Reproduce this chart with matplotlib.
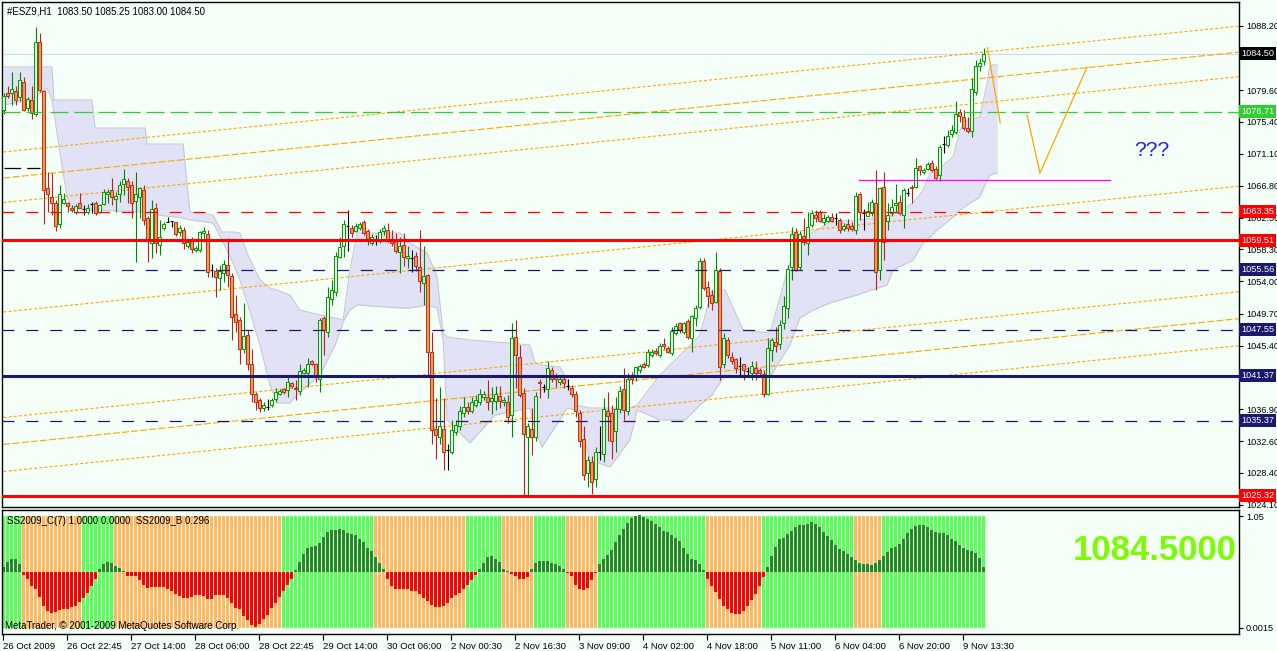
import matplotlib
matplotlib.use("Agg")
import matplotlib.pyplot as plt
import matplotlib.transforms as mtransforms
import numpy as np

plt.rcParams['font.family'] = ['Liberation Sans', 'DejaVu Sans']
plt.rcParams['lines.scale_dashes'] = False

W, H = 1277, 651
BG = '#F4FFF7'

# ---- price bars (#ESZ9, H1) ----
opens = [1077.0, 1079.2, 1079.2, 1079.5, 1078.7, 1080.7, 1077.2, 1078.3, 1076.4, 1086.0,
         1079.5, 1066.5, 1065.3, 1064.5, 1061.7, 1064.5, 1064.5, 1063.9, 1063.3, 1064.5,
         1063.7, 1063.3, 1064.4, 1064.5, 1063.3, 1064.4, 1065.7, 1066.2, 1065.1, 1065.7,
         1067.1, 1067.4, 1066.9, 1064.8, 1065.3, 1066.2, 1062.5, 1059.1, 1063.9, 1058.9,
         1061.1, 1062.0, 1062.1, 1061.9, 1060.6, 1060.9, 1058.8, 1059.7, 1058.2, 1058.2,
         1060.5, 1060.4, 1055.6, 1055.4, 1054.4, 1055.1, 1056.2, 1054.7, 1049.6, 1048.8,
         1045.0, 1046.8, 1043.0, 1038.9, 1038.1, 1037.0, 1037.2, 1037.5, 1038.3, 1039.0,
         1039.6, 1039.5, 1040.4, 1039.8, 1039.3, 1041.8, 1041.8, 1043.3, 1043.0, 1041.0,
         1049.1, 1047.3, 1051.6, 1052.6, 1057.3, 1058.8, 1061.4, 1061.1, 1060.8, 1061.1,
         1062.0, 1060.8, 1059.2, 1059.6, 1059.5, 1060.8, 1060.9, 1059.6, 1059.6, 1057.9,
         1058.9, 1057.1, 1057.1, 1057.4, 1055.9, 1053.8, 1054.9, 1044.5, 1034.3, 1033.2,
         1034.3, 1031.5, 1031.2, 1033.8, 1034.6, 1036.4, 1037.2, 1036.7, 1037.5, 1037.8,
         1038.6, 1038.6, 1038.0, 1038.0, 1038.7, 1037.8, 1037.8, 1036.1, 1046.6, 1043.9,
         1039.1, 1033.2, 1034.3, 1033.2, 1040.6, 1039.9, 1039.6, 1042.1, 1041.3, 1040.6,
         1040.9, 1040.0, 1039.8, 1039.0, 1036.4, 1032.9, 1028.3, 1029.9, 1027.5, 1031.2,
         1030.9, 1036.7, 1036.4, 1034.0, 1036.9, 1039.6, 1036.6, 1041.4, 1041.3, 1042.1,
         1043.0, 1042.8, 1044.1, 1044.7, 1044.1, 1045.6, 1045.1, 1044.4, 1047.1, 1048.4,
         1047.3, 1048.7, 1046.4, 1049.1, 1050.6, 1056.8, 1053.3, 1052.2, 1051.3, 1055.4,
         1043.0, 1046.2, 1043.9, 1043.6, 1042.7, 1042.9, 1042.0, 1041.8, 1042.4, 1042.1,
         1041.6, 1038.9, 1044.8, 1045.9, 1045.6, 1048.4, 1050.4, 1055.9, 1060.6, 1055.9,
         1060.1, 1059.1, 1061.6, 1062.9, 1063.3, 1061.9, 1062.1, 1062.6, 1062.5, 1062.2,
         1061.0, 1061.7, 1061.4, 1060.9, 1065.7, 1063.1, 1062.8, 1063.1, 1064.5, 1055.5,
         1066.7, 1062.1, 1063.1, 1064.2, 1064.7, 1062.9, 1065.8, 1066.7, 1066.6, 1069.5,
         1068.6, 1069.1, 1069.9, 1069.1, 1068.3, 1072.4, 1072.3, 1073.7, 1074.0, 1076.7,
         1076.0, 1074.5, 1074.1, 1079.4, 1082.9, 1083.5]
highs = [1079.2, 1080.1, 1082.1, 1080.2, 1082.1, 1081.4, 1078.7, 1080.1, 1088.1, 1087.2,
         1079.6, 1068.6, 1068.5, 1064.9, 1066.9, 1065.8, 1064.6, 1064.3, 1064.4, 1065.8,
         1064.2, 1064.4, 1064.7, 1064.8, 1064.4, 1066.4, 1066.4, 1067.8, 1066.0, 1067.5,
         1069.1, 1067.8, 1067.4, 1068.6, 1066.6, 1066.9, 1062.7, 1064.9, 1064.5, 1062.2,
         1062.0, 1062.6, 1062.1, 1062.0, 1061.6, 1061.3, 1059.6, 1059.9, 1058.7, 1060.8,
         1061.3, 1060.9, 1056.4, 1055.8, 1056.2, 1056.9, 1059.8, 1055.1, 1052.2, 1049.3,
         1051.1, 1047.5, 1044.9, 1039.2, 1038.4, 1037.8, 1038.3, 1038.4, 1039.7, 1039.6,
         1039.8, 1041.3, 1040.6, 1040.8, 1043.0, 1042.4, 1043.7, 1043.5, 1043.1, 1049.1,
         1049.4, 1053.3, 1054.2, 1058.0, 1060.0, 1062.2, 1063.5, 1061.6, 1061.8, 1062.0,
         1062.2, 1061.0, 1060.3, 1060.2, 1061.0, 1061.5, 1061.8, 1060.9, 1060.5, 1060.0,
         1060.5, 1058.7, 1058.2, 1057.9, 1060.9, 1058.7, 1055.0, 1047.3, 1038.4, 1039.9,
         1038.4, 1032.3, 1035.5, 1035.5, 1037.3, 1038.6, 1037.8, 1038.6, 1038.8, 1039.6,
         1039.3, 1040.8, 1039.9, 1040.0, 1040.0, 1038.6, 1038.8, 1048.4, 1048.8, 1045.5,
         1039.7, 1035.0, 1037.0, 1039.2, 1041.0, 1040.3, 1043.3, 1042.6, 1041.7, 1041.5,
         1041.5, 1040.9, 1040.1, 1039.4, 1036.8, 1034.6, 1030.6, 1030.6, 1031.9, 1034.6,
         1038.4, 1039.2, 1037.5, 1038.6, 1040.0, 1042.4, 1041.7, 1041.9, 1042.6, 1043.0,
         1043.2, 1045.0, 1044.9, 1045.1, 1045.7, 1046.4, 1045.4, 1047.9, 1048.4, 1048.6,
         1048.6, 1049.0, 1049.5, 1050.9, 1057.1, 1057.1, 1054.0, 1052.9, 1058.0, 1055.8,
         1047.1, 1046.6, 1044.5, 1043.8, 1043.9, 1043.0, 1042.6, 1043.3, 1043.3, 1042.4,
         1042.1, 1046.4, 1046.4, 1047.9, 1048.8, 1052.0, 1056.2, 1061.3, 1061.1, 1060.7,
         1062.5, 1063.3, 1063.5, 1063.5, 1063.5, 1063.0, 1062.9, 1063.2, 1063.2, 1062.5,
         1061.8, 1062.4, 1062.0, 1066.0, 1066.0, 1063.7, 1064.7, 1065.0, 1068.9, 1066.7,
         1068.7, 1064.5, 1065.0, 1067.1, 1065.6, 1066.5, 1066.5, 1066.9, 1070.5, 1069.6,
         1069.2, 1070.0, 1070.2, 1069.4, 1072.3, 1073.5, 1074.3, 1074.9, 1078.1, 1077.1,
         1076.9, 1076.0, 1081.2, 1083.7, 1083.9, 1085.25]
lows = [1076.4, 1078.5, 1077.6, 1077.6, 1078.1, 1076.8, 1076.8, 1075.7, 1076.2, 1079.4,
        1061.7, 1063.3, 1062.9, 1060.7, 1061.2, 1064.4, 1063.3, 1063.3, 1063.0, 1063.8,
        1062.9, 1063.0, 1063.1, 1062.9, 1063.1, 1064.2, 1064.5, 1064.2, 1063.3, 1064.7,
        1065.6, 1064.5, 1062.5, 1056.6, 1062.5, 1061.6, 1056.6, 1057.1, 1057.8, 1057.5,
        1060.9, 1062.0, 1061.3, 1060.1, 1060.1, 1058.4, 1058.5, 1057.8, 1057.9, 1058.0,
        1059.3, 1054.6, 1054.6, 1051.9, 1052.9, 1053.9, 1053.3, 1046.2, 1047.3, 1043.0,
        1044.4, 1042.2, 1037.9, 1036.8, 1036.5, 1036.7, 1036.8, 1037.2, 1037.9, 1038.8,
        1039.0, 1038.6, 1039.8, 1038.1, 1038.8, 1041.6, 1039.9, 1042.8, 1040.5, 1039.2,
        1044.2, 1046.6, 1050.9, 1052.1, 1057.1, 1057.3, 1058.1, 1059.9, 1060.6, 1060.9,
        1060.2, 1058.9, 1058.9, 1058.9, 1059.2, 1060.2, 1059.3, 1058.8, 1057.8, 1055.1,
        1056.1, 1055.8, 1055.3, 1055.4, 1052.6, 1050.9, 1041.5, 1032.3, 1030.3, 1032.3,
        1028.8, 1028.8, 1030.9, 1033.5, 1034.1, 1035.9, 1036.2, 1036.4, 1037.2, 1037.5,
        1038.2, 1036.8, 1036.3, 1036.8, 1037.1, 1037.3, 1035.0, 1033.2, 1039.7, 1038.6,
        1025.2, 1025.2, 1030.8, 1032.6, 1038.4, 1039.2, 1038.4, 1040.5, 1039.9, 1040.2,
        1039.7, 1039.5, 1038.6, 1035.8, 1031.9, 1027.4, 1026.5, 1025.6, 1026.5, 1030.1,
        1029.9, 1032.6, 1030.3, 1031.2, 1036.4, 1035.5, 1036.1, 1040.3, 1040.7, 1041.8,
        1042.4, 1042.6, 1043.9, 1044.2, 1043.9, 1045.0, 1044.4, 1044.1, 1046.8, 1047.1,
        1047.0, 1046.3, 1044.6, 1048.0, 1050.3, 1052.9, 1050.6, 1050.2, 1051.1, 1040.8,
        1042.4, 1043.7, 1042.9, 1041.7, 1041.5, 1040.8, 1041.5, 1040.8, 1040.8, 1041.5,
        1038.6, 1038.8, 1043.3, 1044.6, 1044.9, 1047.7, 1049.1, 1054.2, 1055.4, 1055.5,
        1058.9, 1057.5, 1061.3, 1062.0, 1061.9, 1061.6, 1061.9, 1061.9, 1061.6, 1060.5,
        1060.7, 1060.7, 1060.7, 1060.4, 1062.2, 1060.9, 1062.7, 1062.7, 1052.9, 1054.2,
        1056.9, 1060.9, 1062.7, 1063.3, 1062.9, 1061.1, 1065.4, 1064.5, 1066.5, 1068.3,
        1068.4, 1068.9, 1068.7, 1067.7, 1067.4, 1071.2, 1072.0, 1073.4, 1073.8, 1075.4,
        1074.3, 1073.9, 1073.4, 1079.0, 1082.2, 1083.0]
closes = [1078.8, 1078.8, 1079.7, 1078.3, 1081.0, 1076.9, 1078.4, 1076.6, 1086.1, 1079.6,
          1066.2, 1065.7, 1064.5, 1061.4, 1065.7, 1065.1, 1064.1, 1063.6, 1064.1, 1063.9,
          1063.7, 1063.9, 1064.4, 1063.1, 1064.2, 1066.0, 1066.0, 1065.3, 1065.4, 1066.9,
          1067.7, 1066.6, 1064.5, 1065.7, 1066.5, 1062.2, 1059.4, 1063.7, 1059.1, 1059.9,
          1061.7, 1062.0, 1062.1, 1060.4, 1061.1, 1059.1, 1059.3, 1058.4, 1058.5, 1060.6,
          1060.7, 1055.3, 1055.6, 1054.6, 1055.4, 1056.4, 1054.9, 1049.3, 1048.6, 1044.9,
          1046.7, 1043.0, 1039.0, 1037.8, 1037.0, 1037.5, 1037.2, 1038.1, 1039.2, 1039.3,
          1039.2, 1040.6, 1040.0, 1039.6, 1042.0, 1042.1, 1043.0, 1043.0, 1041.2, 1048.8,
          1047.5, 1051.9, 1052.9, 1057.4, 1058.6, 1061.7, 1061.4, 1060.5, 1061.4, 1061.7,
          1060.5, 1059.6, 1059.9, 1059.6, 1060.6, 1061.1, 1059.6, 1059.1, 1058.1, 1058.7,
          1057.3, 1057.4, 1057.1, 1056.1, 1054.1, 1054.7, 1044.6, 1034.1, 1033.4, 1034.6,
          1031.2, 1031.5, 1034.1, 1034.8, 1036.6, 1037.2, 1036.7, 1037.9, 1038.1, 1038.9,
          1038.9, 1037.8, 1038.4, 1038.9, 1038.0, 1038.1, 1035.9, 1046.4, 1044.2, 1038.8,
          1033.6, 1034.6, 1033.2, 1038.7, 1040.4, 1039.9, 1042.4, 1040.9, 1040.9, 1041.0,
          1040.4, 1040.0, 1038.9, 1036.7, 1032.6, 1028.1, 1030.1, 1027.2, 1031.2, 1031.2,
          1036.9, 1036.0, 1032.6, 1036.9, 1039.4, 1036.8, 1041.0, 1041.0, 1042.5, 1042.7,
          1042.6, 1044.5, 1044.5, 1044.4, 1045.4, 1045.3, 1044.6, 1047.4, 1048.0, 1047.5,
          1048.4, 1046.6, 1049.4, 1050.4, 1056.7, 1053.1, 1052.0, 1051.1, 1055.6, 1042.6,
          1046.4, 1044.2, 1043.3, 1042.4, 1042.7, 1042.1, 1042.0, 1042.7, 1041.8, 1041.8,
          1038.9, 1045.1, 1046.2, 1045.3, 1048.2, 1050.7, 1055.7, 1060.4, 1055.6, 1060.4,
          1059.3, 1061.3, 1063.2, 1062.5, 1062.1, 1062.5, 1062.6, 1062.1, 1062.5, 1060.9,
          1061.4, 1061.1, 1061.0, 1065.4, 1063.3, 1063.1, 1063.4, 1064.7, 1055.3, 1066.5,
          1059.3, 1062.9, 1064.0, 1064.5, 1063.1, 1066.2, 1065.8, 1066.5, 1069.2, 1068.9,
          1068.9, 1069.7, 1068.9, 1067.9, 1072.0, 1072.4, 1073.5, 1074.3, 1076.4, 1076.2,
          1074.6, 1074.1, 1079.7, 1082.8, 1083.3, 1084.5]

# ---- SS2009 indicator ----
hist = [0.09, 0.18, 0.23, 0.24, 0.15, -0.05, -0.12, -0.25, -0.30, -0.45,
        -0.61, -0.71, -0.73, -0.72, -0.69, -0.66, -0.66, -0.63, -0.61, -0.54,
        -0.47, -0.37, -0.25, -0.12, 0.05, 0.15, 0.18, 0.17, 0.11, 0.07,
        0.01, -0.07, -0.07, -0.07, -0.15, -0.23, -0.29, -0.27, -0.27, -0.27,
        -0.27, -0.30, -0.35, -0.39, -0.43, -0.47, -0.47, -0.45, -0.42, -0.41,
        -0.43, -0.48, -0.48, -0.42, -0.42, -0.42, -0.47, -0.55, -0.65, -0.66,
        -0.79, -0.87, -0.95, -0.99, -0.93, -0.85, -0.77, -0.65, -0.55, -0.45,
        -0.35, -0.24, -0.12, 0.03, 0.18, 0.33, 0.43, 0.45, 0.46, 0.53,
        0.63, 0.72, 0.75, 0.75, 0.77, 0.75, 0.71, 0.69, 0.66, 0.59,
        0.54, 0.43, 0.37, 0.27, 0.17, 0.05, -0.12, -0.25, -0.31, -0.31,
        -0.30, -0.31, -0.35, -0.35, -0.39, -0.46, -0.52, -0.59, -0.63, -0.63,
        -0.61, -0.55, -0.47, -0.41, -0.37, -0.30, -0.23, -0.15, -0.06, 0.06,
        0.17, 0.27, 0.29, 0.24, 0.18, 0.06, 0.01, -0.03, -0.07, -0.13,
        -0.13, -0.09, 0.06, 0.17, 0.19, 0.20, 0.19, 0.17, 0.14, 0.11,
        0.05, -0.01, -0.07, -0.23, -0.30, -0.33, -0.29, -0.15, -0.01, 0.15,
        0.24, 0.31, 0.39, 0.54, 0.67, 0.78, 0.89, 0.97, 1.01, 1.02,
        0.99, 0.95, 0.91, 0.87, 0.81, 0.74, 0.72, 0.67, 0.61, 0.55,
        0.43, 0.33, 0.24, 0.21, 0.15, 0.04, -0.12, -0.25, -0.36, -0.48,
        -0.61, -0.66, -0.73, -0.76, -0.75, -0.71, -0.61, -0.51, -0.39, -0.25,
        -0.09, 0.09, 0.29, 0.45, 0.59, 0.61, 0.69, 0.73, 0.81, 0.85,
        0.84, 0.87, 0.90, 0.87, 0.81, 0.72, 0.65, 0.57, 0.49, 0.42,
        0.37, 0.33, 0.27, 0.21, 0.17, 0.14, 0.15, 0.13, 0.17, 0.21,
        0.29, 0.36, 0.43, 0.45, 0.51, 0.59, 0.71, 0.77, 0.83, 0.84,
        0.84, 0.81, 0.75, 0.72, 0.71, 0.71, 0.66, 0.60, 0.55, 0.48,
        0.43, 0.39, 0.37, 0.35, 0.25, 0.09]
# background state of each bar, as runs of (state, number of bars)
strip_runs = [("up", 5), ("dn", 15), ("up", 8), ("dn", 42), ("up", 23), ("dn", 23),
              ("up", 9), ("dn", 8), ("up", 8), ("dn", 8), ("up", 27), ("dn", 14),
              ("up", 23), ("dn", 7), ("up", 26)]

# ---- Ichimoku cloud outline (bar index, upper edge, lower edge) ----
cloud_x = [0, 6.6, 10.9, 12.1, 12.6, 14.1, 15.9, 17.1, 22.1, 22.9, 35.4, 35.9, 44.9, 46.6,
           52.4, 54.6, 57.4, 59.1, 61.1, 64.1, 66.6, 68.4, 71.6, 74.1, 79.1, 82.9, 84.9,
           86.6, 88.4, 99.1, 101.6, 105.9, 108.4, 109.9, 110.9, 116.6, 122.9, 131.6, 132.9,
           134.6, 139.1, 140.9, 143.4, 146.6, 151.6, 156.6, 158.4, 164.1, 170.4, 174.1,
           177.1, 180.4, 184.9, 191.6, 196.6, 199.1, 202.4, 206.6, 213.4, 220.9, 222.4,
           227.4, 229.9, 231.6, 233.4, 235.9, 237.4, 239.1, 240.9, 244.1, 245.9, 246.6, 248.4]
cloud_hi = [1082.71, 1082.71, 1082.71, 1082.71, 1078.29, 1078.29, 1078.29, 1078.29, 1078.29,
            1074.55, 1074.55, 1072.40, 1072.40, 1063.30, 1062.90, 1060.62, 1060.62, 1060.49,
            1057.54, 1054.20, 1053.13, 1052.86, 1052.19, 1050.18, 1049.51, 1049.11, 1048.84,
            1055.54, 1060.49, 1060.49, 1059.14, 1057.81, 1054.60, 1047.10, 1046.57, 1046.17,
            1045.90, 1045.50, 1043.09, 1042.82, 1042.55, 1040.81, 1037.46, 1037.06, 1037.06,
            1037.06, 1037.46, 1041.48, 1044.83, 1046.83, 1052.86, 1052.86, 1047.50, 1047.10,
            1056.61, 1059.55, 1060.62, 1061.96, 1062.23, 1062.63, 1062.90, 1064.51, 1066.25,
            1068.52, 1068.92, 1069.99, 1070.66, 1074.28, 1075.62, 1076.02, 1080.57, 1082.98,
            1082.98]
cloud_lo = [1077.62, 1078.29, 1079.90, 1078.29, 1076.69, 1071.20, 1065.31, 1063.84, 1063.57,
            1063.57, 1063.30, 1063.03, 1062.50, 1062.23, 1061.83, 1059.55, 1056.47, 1054.20,
            1050.85, 1045.50, 1040.14, 1037.73, 1037.73, 1039.20, 1041.48, 1045.50, 1048.58,
            1050.18, 1050.85, 1050.45, 1050.45, 1050.85, 1050.45, 1046.17, 1035.46, 1032.38,
            1036.13, 1037.06, 1034.12, 1031.84, 1035.46, 1037.06, 1036.79, 1030.10, 1029.16,
            1032.78, 1036.79, 1035.46, 1035.46, 1037.46, 1038.80, 1041.48, 1041.21, 1041.21,
            1045.50, 1049.11, 1050.18, 1051.12, 1052.19, 1053.53, 1055.54, 1056.87, 1059.15,
            1059.95, 1060.89, 1061.96, 1062.63, 1063.57, 1064.24, 1065.31, 1067.58, 1068.25,
            1068.52]

# ---- horizontal levels ----
level_price = [1076.71, 1063.35, 1059.51, 1055.56, 1047.55, 1041.37, 1035.37, 1025.32]
level_color = ['#32CD32', '#FF0000', '#FF0000', '#191970', '#191970', '#191970', '#191970', '#FF0000']
level_solid = [False, False, True, False, False, True, False, True]
bid_price = 1084.50

# ---- channel lines: price at bar 0 and at right edge ----
chan_left = [1071.33, 1067.85, 1064.57, 1049.91, 1035.79, 1032.18, 1028.56]
chan_right = [1088.17, 1084.69, 1081.41, 1066.75, 1052.63, 1049.02, 1045.40]
chan_dashed = [False, True, False, False, False, True, False]

# hand drawn forecast
steep_x, steep_y = [246.0, 249.2], [1085.3, 1075.2]
vee_x, vee_y = [255.9, 259.1, 270.9], [1076.3, 1068.5, 1082.7]
magenta_x, magenta_y = [213.9, 276.6], 1067.58
black_x, black_y = [0, 9], 1069.2

price_ticks = [1088.20, 1083.90, 1079.60, 1075.40, 1071.10, 1066.80, 1062.50, 1058.30,
               1054.00, 1049.70, 1045.40, 1041.10, 1036.90, 1032.60, 1028.40, 1024.10]
# ticks hidden behind the price boxes on the right scale
hidden_ticks = [1083.90, 1041.10]
date_labels = ["26 Oct 2009", "26 Oct 22:45", "27 Oct 14:00", "28 Oct 06:00", "28 Oct 22:45",
               "29 Oct 14:00", "30 Oct 06:00", "2 Nov 00:30", "2 Nov 16:30", "3 Nov 09:00",
               "4 Nov 02:00", "4 Nov 18:00", "5 Nov 11:00", "6 Nov 04:00", "6 Nov 20:00",
               "9 Nov 13:30"]

o = np.array(opens)
hi = np.array(highs)
lo = np.array(lows)
c = np.array(closes)
x = np.arange(len(c))

fig = plt.figure(figsize=(W / 100, H / 100), dpi=100, facecolor=BG)
ax = fig.add_axes([2 / W, 1 - 507 / H, 1237 / W, 505 / H], facecolor=BG)
ax2 = fig.add_axes([2 / W, 1 - 634 / H, 1237 / W, 124 / H], facecolor=BG)

# cloud
ax.fill_between(cloud_x, cloud_lo, cloud_hi, color='#E2E2F6', lw=0, zorder=1)
ax.plot(cloud_x, cloud_hi, color='#C9C9D2', lw=0.8, zorder=1.2)
ax.plot(cloud_x, cloud_lo, color='#C9C9D2', lw=0.8, zorder=1.2)

# bid line
ax.axhline(bid_price, color='#D4D6EE', lw=0.8, zorder=1.5)

# channel
for p0, p1, dashed in zip(chan_left, chan_right, chan_dashed):
    ls = (0, (5, 1.6)) if dashed else (0, (2.2, 1.5))
    ax.plot([0, 308.75], [p0, p1], color='#FFA500', lw=0.8, ls=ls, zorder=2)

# candles
bull = c > o
bear = c < o
doji = c == o
wick_col = np.where(bull, '#008800', np.where(bear, '#B22222', '#000000'))
ax.vlines(x, lo, hi, colors=wick_col, lw=0.8, zorder=3)
ax.bar(x[bull], (c - o)[bull], bottom=o[bull], width=0.55, color='#F4FFF4',
       edgecolor='#00A000', linewidth=0.75, zorder=3.2)
ax.bar(x[bear], (o - c)[bear], bottom=c[bear], width=0.55, color='#F0A040',
       edgecolor='#C0302A', linewidth=0.75, zorder=3.2)
ax.hlines(o[doji], x[doji] - 0.4, x[doji] + 0.4, colors='black', lw=0.8, zorder=3.2)

# levels
for p, col, solid in zip(level_price, level_color, level_solid):
    if solid:
        ax.axhline(p, color=col, lw=2.2, zorder=4)
    else:
        ls = (0, (13, 4.3)) if col == '#32CD32' else (0, (8.6, 8.6))
        ax.axhline(p, color=col, lw=0.9, ls=ls, zorder=4)

ax.plot(black_x, [black_y, black_y], color='black', lw=0.9, ls=(0, (12, 4.3)), zorder=4)
ax.plot(magenta_x, [magenta_y, magenta_y], color='#FF00FF', lw=0.9, zorder=4)
ax.plot(steep_x, steep_y, color='#FFA500', lw=0.9, zorder=4)
ax.plot(vee_x, vee_y, color='#FFA500', lw=0.9, zorder=4)
ax.text(287.1, 1071.5, "???", color='#2323E8', fontsize=15, ha='center', va='center')

ax.set_xlim(-0.375, 308.875)
ax.set_ylim(1023.81, 1091.41)
ax.set_xticks([])
ax.yaxis.tick_right()
ax.set_yticks(price_ticks)
ax.set_yticklabels(["" if v in hidden_ticks else f"{v:.2f}" for v in price_ticks])
ax.tick_params(axis='y', labelsize=6.6, length=3, width=0.8, pad=2)

tr = mtransforms.blended_transform_factory(ax.transAxes, ax.transData)
box_prices = [bid_price] + level_price
box_colors = ['#000000'] + level_color
for p, col in zip(box_prices, box_colors):
    ax.text(1.0016, p, f"{p:.2f}", transform=tr, color='white', fontsize=6.6,
            ha='left', va='center', zorder=6, clip_on=False,
            bbox=dict(boxstyle='square,pad=0.2', fc=col, ec='none'))

# indicator panel
strip_col = []
for state, count in strip_runs:
    strip_col += ['#58FF58' if state == "up" else '#FFB862'] * count
hv = np.array(hist)
ax2.bar(x, 2.0, bottom=-1.0, width=0.75, color=strip_col, lw=0, zorder=1)
ax2.bar(x, hv, width=0.75, color=np.where(hv > 0, '#228B22', '#FF0000'), lw=0, zorder=2)
ax2.set_xlim(-0.375, 308.875)
ax2.set_ylim(-1.117, 1.117)
ax2.yaxis.tick_right()
ax2.set_yticks([1.0, -1.0])
ax2.set_yticklabels(["1.05", "0.0015"])
ax2.tick_params(axis='y', labelsize=6.6, length=3, width=0.8, pad=2)
ax2.set_xticks([16 * k - 0.125 for k in range(len(date_labels))])
ax2.set_xticklabels(date_labels, ha='left')
ax2.tick_params(axis='x', labelsize=6.8, length=4, width=0.8, pad=1.5)

for a in (ax, ax2):
    for s in a.spines.values():
        s.set_linewidth(1.0)
        s.set_color('black')

fig.text(7 / W, 1 - 11 / H, "#ESZ9,H1  1083.50 1085.25 1083.00 1084.50", fontsize=7,
         va='center', ha='left')
fig.text(7 / W, 1 - 521 / H, "SS2009_C(7) 1.0000 0.0000  SS2009_B 0.296", fontsize=7,
         va='center', ha='left')
fig.text(5 / W, 1 - 626 / H, "MetaTrader, \u00a9 2001-2009 MetaQuotes Software Corp.",
         fontsize=7, va='center', ha='left')
fig.text(1237 / W, 1 - 550 / H, "1084.5000", fontsize=25, fontweight='bold',
         color='#7CFC00', ha='right', va='center')

fig.savefig("out.png", dpi=100, facecolor=BG)
